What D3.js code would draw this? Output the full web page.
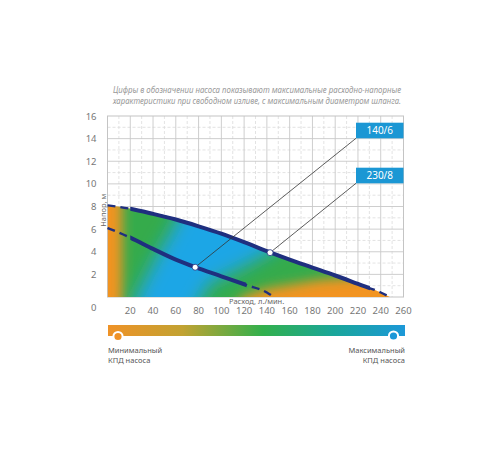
<!DOCTYPE html>
<html>
<head>
<meta charset="utf-8">
<script src="https://cdn.jsdelivr.net/npm/d3@7"></script>
<style>
  body { margin:0; background:#fff; }
  svg { display:block; }
  text { font-family: "Noto Sans", Lato, sans-serif; }
</style>
</head>
<body>
<div id="chart"></div>
<script>
// pump curves, flow l/min vs head m
let flow230 = [0, 20, 40, 60, 80, 100, 120, 140, 160, 180, 200, 220, 240, 248]
let head230 = [8.1, 7.8, 7.35, 6.85, 6.25, 5.6, 4.85, 4.05, 3.3, 2.6, 1.9, 1.15, 0.4, 0]
let flow140 = [0, 20, 40, 60, 77, 100, 122, 140, 146]
let head140 = [6.1, 5.25, 4.25, 3.3, 2.63, 1.83, 1.06, 0.4, 0]
let xTicks = [20, 40, 60, 80, 100, 120, 140, 160, 180, 200, 220, 240, 260]
let yTicks = [0, 2, 4, 6, 8, 10, 12, 14, 16]
let labels = ["140/6", "230/8"]
let markers = [[77, 2.63], [142.8, 3.92]]   // operating points for the callouts

let width = 500, height = 450,
    margin = { top:116, left:107.5, right:96.5, bottom:153 },
    innerWidth = width - margin.left - margin.right,
    innerHeight = height - margin.top - margin.bottom

let xScale = d3.scaleLinear().domain([0,260]).range([0,innerWidth])
let yScale = d3.scaleLinear().domain([0,16]).range([innerHeight,0])

let svg = d3.select("#chart").append("svg")
  .attr("width",width).attr("height",height).attr("viewBox",`0 0 ${width} ${height}`)
let defs = svg.append("defs")
let g = svg.append("g").attr("transform",`translate(${margin.left},${margin.top})`)

// title
let title = ["Цифры в обозначении насоса показывают максимальные расходно-напорные",
             "характеристики при свободном изливе, с максимальным диаметром шланга."]
svg.selectAll(".title").data(title).enter().append("text")
  .attr("x",257).attr("y",(d,i)=>93 + i*10.5)
  .attr("text-anchor","middle").attr("font-size",8.4).attr("font-style","italic")
  .attr("fill","#999").attr("textLength",288).attr("lengthAdjust","spacingAndGlyphs")
  .text(d=>d)

// grid
let minor = d3.range(10,260,20), minorY = d3.range(1,16,2)
g.selectAll(".vminor").data(minor).enter().append("line")
  .attr("x1",d=>xScale(d)).attr("x2",d=>xScale(d)).attr("y1",0).attr("y2",innerHeight)
  .attr("stroke","#dcdcdc").attr("stroke-dasharray","3,2").attr("stroke-width",0.8)
g.selectAll(".hminor").data(minorY).enter().append("line")
  .attr("y1",d=>yScale(d)).attr("y2",d=>yScale(d)).attr("x1",0).attr("x2",innerWidth)
  .attr("stroke","#dcdcdc").attr("stroke-dasharray","3,2").attr("stroke-width",0.8)
g.selectAll(".vmajor").data(xTicks.slice(0,-1)).enter().append("line")
  .attr("x1",d=>xScale(d)).attr("x2",d=>xScale(d)).attr("y1",0).attr("y2",innerHeight)
  .attr("stroke","#c8c8c8").attr("stroke-width",0.9)
g.selectAll(".hmajor").data(yTicks.slice(1,-1)).enter().append("line")
  .attr("y1",d=>yScale(d)).attr("y2",d=>yScale(d)).attr("x1",0).attr("x2",innerWidth)
  .attr("stroke","#c8c8c8").attr("stroke-width",0.9)
g.append("rect").attr("width",innerWidth).attr("height",innerHeight)
  .attr("fill","none").attr("stroke","#c4c4c4").attr("stroke-width",1)

// coloured area under the 230/8 curve
let pts230 = flow230.map((d,i)=>[d, head230[i]])
let pts140 = flow140.map((d,i)=>[d, head140[i]])
let area = d3.area().x(d=>xScale(d[0])).y0(innerHeight).y1(d=>yScale(d[1])).curve(d3.curveMonotoneX)
defs.append("clipPath").attr("id","areaClip").append("path").attr("d",area(pts230))

function blur(id, s){
  defs.append("filter").attr("id",id).attr("x","-50%").attr("y","-50%").attr("width","200%").attr("height","200%")
    .append("feGaussianBlur").attr("stdDeviation",s)
}
blur("blurG",6)
blur("blurB",9)

let poly = d3.line().x(d=>xScale(d[0])).y(d=>yScale(d[1]))
let greenZone = [[13,-2],[13,10],[250,10],[240,3],[225,1.8],[185,1.5],[140,0.75],[118,0],[105,-2]]
let blueZone = [[20,-3],[25,0],[42,3.4],[58,6.2],[70,9],[150,9],[152,4.5],[124,2.9],[90,1.2],[66,-3]]

let fillG = g.append("g").attr("clip-path","url(#areaClip)")
fillG.append("rect").attr("width",innerWidth).attr("height",innerHeight).attr("fill","#f29421")
fillG.append("path").attr("d",poly(greenZone)+"Z").attr("fill","#35ab4b").attr("filter","url(#blurG)")
fillG.append("path").attr("d",poly(blueZone)+"Z").attr("fill","#1ca6e6").attr("filter","url(#blurB)")

// curves: dashed full length, solid middle part on top
let line = d3.line().x(d=>xScale(d[0])).y(d=>yScale(d[1])).curve(d3.curveMonotoneX)
let solidRanges = [[20,230.5],[20,122]]
;[pts230, pts140].forEach((pts,i)=>{
  let id = "solid"+i
  defs.append("clipPath").attr("id",id).append("rect")
    .attr("x",xScale(solidRanges[i][0])).attr("width",xScale(solidRanges[i][1])-xScale(solidRanges[i][0]))
    .attr("y",-20).attr("height",innerHeight+40)
  g.append("path").attr("d",line(pts)).attr("fill","none").attr("stroke","#1f2f7f")
    .attr("stroke-width",2.4).attr("stroke-dasharray","8,5")
  g.append("path").attr("d",line(pts)).attr("fill","none").attr("stroke","#1f2f7f")
    .attr("stroke-width",4).attr("clip-path",`url(#${id})`)
})

// callouts
let boxX = 356 - margin.left, boxW = 47.5, boxH = 15.6
let boxY = [122.7 - margin.top, 167.7 - margin.top]
markers.forEach((m,i)=>{
  g.append("line").attr("x1",xScale(m[0])).attr("y1",yScale(m[1]))
    .attr("x2",boxX).attr("y2",boxY[i]+boxH).attr("stroke","#333").attr("stroke-width",0.8)
})
g.selectAll(".mk").data(markers).enter().append("circle")
  .attr("cx",d=>xScale(d[0])).attr("cy",d=>yScale(d[1])).attr("r",3)
  .attr("fill","#fff").attr("stroke","#1f2f7f").attr("stroke-width",0.8)
labels.forEach((l,i)=>{
  g.append("rect").attr("x",boxX).attr("y",boxY[i]).attr("width",boxW).attr("height",boxH).attr("fill","#1b97d4")
  g.append("text").attr("x",boxX+boxW/2).attr("y",boxY[i]+11.3).attr("text-anchor","middle")
    .attr("font-size",10).attr("fill","#fff").text(l)
})

// tick labels
g.selectAll(".xt").data(xTicks).enter().append("text")
  .attr("x",d=>xScale(d)).attr("y",innerHeight+17).attr("text-anchor","middle")
  .attr("font-size",9.5).attr("fill","#777").text(d=>d)
g.selectAll(".yt").data(yTicks).enter().append("text")
  .attr("x",-11).attr("y",d=> d===0 ? innerHeight+14 : yScale(d)+3.5).attr("text-anchor","end")
  .attr("font-size",9.5).attr("fill","#777").text(d=>d)

g.append("text").attr("transform",`translate(-2,${yScale(6.2)}) rotate(-90)`)
  .attr("font-size",7.5).attr("fill","#666").text("Напор, м")
g.append("text").attr("x",xScale(131)).attr("y",innerHeight+6.5).attr("text-anchor","middle")
  .attr("font-size",7.5).attr("fill","#666").text("Расход, л./мин.")

// efficiency legend bar
let lg = defs.append("linearGradient").attr("id","kpd")
lg.selectAll("stop").data([["0%","#ef9227"],["25%","#c2a232"],["52%","#32b04c"],["76%","#1aa69a"],["100%","#1c98d8"]])
  .enter().append("stop").attr("offset",d=>d[0]).attr("stop-color",d=>d[1])
svg.append("rect").attr("x",108).attr("y",325).attr("width",297).attr("height",11).attr("fill","url(#kpd)")
svg.append("circle").attr("cx",118).attr("cy",336.5).attr("r",4.6).attr("fill","#ef9227").attr("stroke","#fff").attr("stroke-width",2)
svg.append("circle").attr("cx",393.5).attr("cy",336).attr("r",4.6).attr("fill","#1c98d8").attr("stroke","#fff").attr("stroke-width",2)
let legText = [["Минимальный","КПД насоса",108,"start"],["Максимальный","КПД насоса",405,"end"]]
legText.forEach(t=>{
  svg.append("text").attr("x",t[2]).attr("y",353).attr("text-anchor",t[3]).attr("font-size",7.5).attr("fill","#555").text(t[0])
  svg.append("text").attr("x",t[2]).attr("y",362.5).attr("text-anchor",t[3]).attr("font-size",7.5).attr("fill","#555").text(t[1])
})
</script>
</body>
</html>
